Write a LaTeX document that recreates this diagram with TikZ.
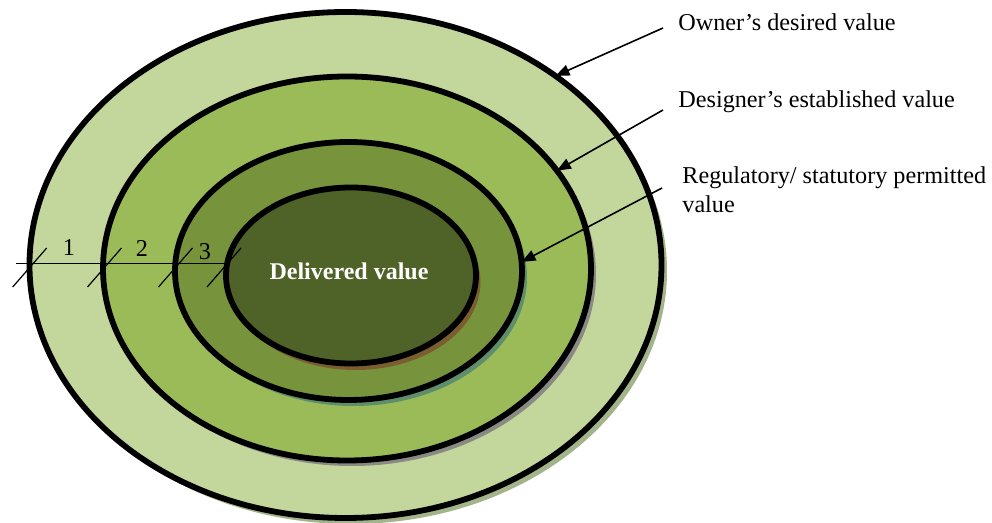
\documentclass[tikz,border=0pt]{standalone}
\usepackage{fontspec}
\setmainfont{Liberation Serif}
\usetikzlibrary{shapes.geometric,arrows.meta}
\definecolor{ringA}{HTML}{C3D69B}
\definecolor{ringB}{HTML}{9BBB59}
\definecolor{ringC}{HTML}{77933C}
\definecolor{ringD}{HTML}{4F6228}
\definecolor{shA}{HTML}{A3B48A}
\definecolor{shB}{HTML}{8A8A84}
\definecolor{shC}{HTML}{5E8E6C}
\definecolor{shD}{HTML}{7A5E30}
\begin{document}
\begin{tikzpicture}[x=0.5pt,y=-0.5pt,
  ring/.style={draw=black,line width=2.9pt,ellipse,inner sep=0pt,outer sep=0pt},
  lbl/.style={font=\fontsize{12.1}{14.7}\selectfont,inner sep=0pt,anchor=west,align=left},
  num/.style={font=\fontsize{12.1}{14.7}\selectfont,inner sep=0pt},
  arr/.style={line width=0.8pt,-{Triangle[length=7pt,width=5.5pt]}},
  dim/.style={line width=0.6pt}]
\useasboundingbox (0,0) rectangle (992,523);
% rings with shadows
\fill[shA] (351,271) ellipse [x radius=316, y radius=253];
\node[ring,fill=ringA,minimum width=316pt,minimum height=253pt] (outer) at (345.5,265) {};
\fill[shB] (352,274) ellipse [x radius=244, y radius=192];
\node[ring,fill=ringB,minimum width=244pt,minimum height=192pt] (second) at (347,268.5) {};
\fill[shC] (353.5,277) ellipse [x radius=173.5, y radius=129];
\node[ring,fill=ringC,minimum width=173.5pt,minimum height=129pt] (third) at (348.5,271) {};
\fill[shD] (355.5,282) ellipse [x radius=125, y radius=88];
\node[ring,fill=ringD,minimum width=125pt,minimum height=88pt] (inner) at (351,275.5) {};
\node[font=\fontsize{12}{14}\selectfont\bfseries,text=white,inner sep=0pt] (dv) at (349,271) {Delivered value};
% dimension line with ticks
\coordinate (d0) at (16,263.5);
\coordinate (d1) at (229,263.5);
\draw[dim] (d0) -- (d1);
\foreach \x in {29.7,104.5,175.5,224}
  \draw[dim] (\x-17,287) -- (\x+17,248);
\node[num] (n1) at (69,248) {1};
\node[num] (n2) at (142,248) {2};
\node[num] (n3) at (205,252) {3};
% labels
\node[lbl] (lo) at (678,22) {Owner’s desired value};
\node[lbl] (ld) at (678,102) {Designer’s established value};
\node[lbl] (lr) at (682,190) {Regulatory/ statutory permitted\\value};
\coordinate (s1) at (663,28);
\coordinate (s2) at (663,110);
\coordinate (s3) at (662,188);
\draw[arr] (s1) -- (outer.42);
\draw[arr] (s2) -- (second.25.5);
\draw[arr] (s3) -- (third.3);
\end{tikzpicture}
\end{document}
